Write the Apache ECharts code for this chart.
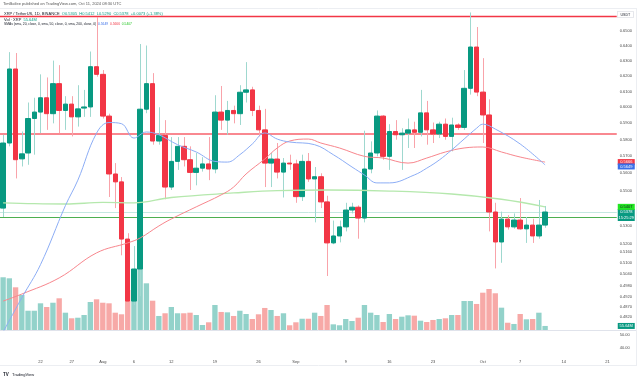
<!DOCTYPE html>
<html>
<head>
<meta charset="utf-8">
<script src="https://cdn.jsdelivr.net/npm/echarts@6/dist/echarts.min.js"></script>
<style>
  html, body { margin: 0; padding: 0; background: #fff; }
  #chart { width: 640px; height: 377px; }
</style>
</head>
<body>
<div id="chart"></div>
<script>
// daily categories, Jul 16 .. Oct 22 2024 (candles stop on Oct 11)
const dates = [];
for (let d = new Date(Date.UTC(2024, 6, 16)); d <= new Date(Date.UTC(2024, 9, 22)); d.setUTCDate(d.getUTCDate() + 1)) {
  dates.push(d.toISOString().slice(0, 10));
}

const opens = [0.5400,0.5780,0.6245,0.5685,0.5720,0.5930,0.5970,0.6060,0.5960,0.6150,
  0.5980,0.6020,0.5940,0.5995,0.6002,0.6260,0.6210,0.5945,0.5596,0.5550,
  0.5228,0.4900,0.5067,0.5988,0.6150,0.5792,0.5826,0.5520,0.5670,0.5760,
  0.5680,0.5605,0.5630,0.5655,0.5625,0.5970,0.5920,0.5980,0.5960,0.6095,
  0.6110,0.5980,0.5860,0.5660,0.5684,0.5607,0.5660,0.5655,0.5465,0.5670,
  0.5567,0.5580,0.5435,0.5207,0.5245,0.5295,0.5389,0.5405,0.5344,0.5625,
  0.5720,0.5945,0.5700,0.5850,0.5830,0.5840,0.5860,0.5845,0.5965,0.5860,
  0.5835,0.5895,0.5820,0.5890,0.5875,0.6120,0.6390,0.6096,0.5952,0.5378,
  0.5212,0.5338,0.5295,0.5333,0.5284,0.5305,0.5245,0.5305];
const closes = [0.5780,0.6245,0.5680,0.5715,0.5930,0.5970,0.6060,0.5960,0.6150,0.5980,
  0.6020,0.5940,0.5990,0.6002,0.6260,0.6210,0.5945,0.5596,0.5550,0.5228,
  0.4900,0.5067,0.5988,0.6150,0.5792,0.5826,0.5520,0.5670,0.5760,0.5680,
  0.5605,0.5630,0.5655,0.5625,0.5970,0.5920,0.5980,0.5960,0.6095,0.6110,
  0.5980,0.5860,0.5660,0.5684,0.5607,0.5660,0.5655,0.5465,0.5670,0.5567,
  0.5580,0.5435,0.5207,0.5245,0.5295,0.5389,0.5405,0.5344,0.5625,0.5720,
  0.5945,0.5700,0.5850,0.5830,0.5840,0.5860,0.5845,0.5965,0.5860,0.5835,
  0.5895,0.5820,0.5890,0.5875,0.6120,0.6390,0.6096,0.5952,0.5378,0.5212,
  0.5338,0.5295,0.5333,0.5284,0.5305,0.5245,0.5305,0.5378];
const highs = [0.5830,0.6356,0.6350,0.5850,0.6030,0.6060,0.6210,0.6190,0.6300,0.6270,
  0.6070,0.6070,0.6140,0.6110,0.6360,0.6594,0.6238,0.5960,0.5660,0.5578,
  0.5260,0.5190,0.6410,0.6400,0.6218,0.6000,0.5920,0.5816,0.5816,0.5816,
  0.5760,0.5720,0.5695,0.5816,0.6076,0.6135,0.6040,0.6010,0.6140,0.6290,
  0.6130,0.6010,0.5990,0.5720,0.5780,0.5690,0.5710,0.5680,0.5710,0.5720,
  0.5637,0.5600,0.5470,0.5330,0.5330,0.5430,0.5430,0.5415,0.5855,0.5790,
  0.5980,0.5950,0.5895,0.5920,0.5870,0.5930,0.5910,0.6110,0.6040,0.5905,
  0.5910,0.5930,0.5935,0.5900,0.6238,0.6625,0.6525,0.6316,0.6050,0.5430,
  0.5380,0.5360,0.5370,0.5457,0.5350,0.5340,0.5446,0.5412];
const lows = [0.5350,0.5760,0.5570,0.5640,0.5650,0.5710,0.5840,0.5860,0.5900,0.5840,
  0.5860,0.5820,0.5880,0.5940,0.5940,0.6195,0.5930,0.5463,0.5400,0.5140,
  0.4300,0.4880,0.4925,0.5963,0.5770,0.5770,0.5450,0.5503,0.5620,0.5640,
  0.5503,0.5530,0.5610,0.5560,0.5600,0.5860,0.5830,0.5900,0.5890,0.6030,
  0.5945,0.5820,0.5520,0.5520,0.5570,0.5460,0.5620,0.5430,0.5440,0.5550,
  0.5320,0.5400,0.5030,0.5200,0.5210,0.5270,0.5370,0.5230,0.5320,0.5600,
  0.5700,0.5680,0.5620,0.5800,0.5620,0.5750,0.5750,0.5820,0.5770,0.5780,
  0.5810,0.5800,0.5730,0.5860,0.5860,0.6080,0.6070,0.5780,0.5270,0.5070,
  0.5100,0.5280,0.5285,0.5280,0.5207,0.5207,0.5230,0.5290];
// volume in millions of XRP
const volumes = [725,711,587,481,265,265,367,316,375,436,
  238,161,169,206,385,422,375,367,238,216,
  550,440,870,642,403,193,230,316,230,230,
  238,206,69,106,344,248,243,193,265,220,
  151,216,303,275,193,230,65,106,155,155,
  238,193,344,78,65,151,124,169,344,238,
  206,110,220,151,183,202,197,128,110,138,
  151,161,206,206,399,399,358,513,564,505,
  307,100,83,220,147,151,238,55.64];

// moving averages (day index -> value)
const sma20Days = [0,3,6,10,12,15,17,19,21,23,25,28,31,34,36,38,40,42,44,46,50,53,56,58,60,62,66,68,70,72,74,76,77,79,83,87];
const sma20 = [0.4744,0.4917,0.5090,0.5414,0.5560,0.5840,0.5905,0.5898,0.5810,0.5847,
  0.5830,0.5770,0.5726,0.5670,0.5666,0.5710,0.5774,0.5841,0.5804,0.5786,
  0.5770,0.5710,0.5637,0.5590,0.5544,0.5544,0.5590,0.5630,0.5678,0.5738,
  0.5804,0.5870,0.5895,0.5865,0.5774,0.5649];
const sma50Days = [0,3,9,15,20,22,25,27,31,35,37,39,42,44,46,49,51,54,58,61,65,68,71,74,77,80,83,87];
const sma50 = [0.4900,0.4936,0.5020,0.5153,0.5207,0.5234,0.5300,0.5339,0.5407,0.5475,
  0.5520,0.5596,0.5684,0.5750,0.5792,0.5804,0.5780,0.5750,0.5700,0.5690,
  0.5660,0.5690,0.5726,0.5750,0.5756,0.5726,0.5696,0.5666];
const sma200Days = [0,5,10,16,21,27,37,44,52,62,72,80,87];
const sma200 = [0.5430,0.5425,0.5423,0.5432,0.5430,0.5460,0.5486,0.5500,0.5503,0.5497,0.5480,0.5450,0.5407];

const resistance = [0.6600, 0.5835];
const support = [0.5350];

const priceTicks = [0.66,0.65,0.64,0.63,0.62,0.61,0.60,0.59,0.58,0.57,0.56,0.55,0.54,0.53,0.52,0.516,0.51,0.504,0.498,0.492,0.487,0.482];
const rsiTicks = [50, 40];
const tickDays = ['2024-07-22','2024-07-27','2024-08-01','2024-08-06','2024-08-12','2024-08-19','2024-08-26','2024-09-01','2024-09-09','2024-09-16','2024-09-23','2024-10-01','2024-10-07','2024-10-14','2024-10-21'];
const tickLabels = ['22','27','Aug','6','12','19','26','Sep','9','16','23','Oct','7','14','21'];

const UP = '#089981', DOWN = '#f23645';
const FONT = 'Liberation Sans';

const wickData = opens.map((o, i) => [i, lows[i], highs[i], closes[i] >= o ? 1 : 0]);
const bodyData = opens.map((o, i) => [o, closes[i], Math.min(o, closes[i]), Math.max(o, closes[i])]);
const volData = volumes.map((v, i) => ({
  value: v,
  itemStyle: { color: closes[i] >= opens[i] ? '#93d2ca' : '#f7a9a7' }
}));
const pts = (days, vals) => days.map((d, i) => [d, vals[i]]);

const last = closes[closes.length - 1];

// price-scale badge drawn as rich text; "below"/"count" lines push the box off-centre
function badge(bg, fg, fmt, lines) {
  return {
    show: true, position: 'end', distance: 1, fontFamily: FONT,
    formatter: p => {
      const t = fmt(p.value);
      if (lines === 'below') return '{e|}\n{a|' + t + '}';
      if (lines === 'count') return '{h|}\n{a|' + t + '}\n{a|15:25:29}';
      return '{a|' + t + '}';
    },
    rich: {
      e: { height: 3 },
      h: { height: 6 },
      a: { backgroundColor: bg, color: fg, fontSize: 4, width: 17, height: 6, align: 'center', fontFamily: FONT }
    }
  };
}
const f4 = v => v.toFixed(4);
// a badge-only marker: invisible line, label at the price scale
const marker = (value, label) => ({
  silent: true, symbol: 'none', precision: 4,
  lineStyle: { color: 'transparent' }, label, data: [{ yAxis: value }]
});

function renderWick(params, api) {
  const lo = api.coord([api.value(0), api.value(1)]);
  const hi = api.coord([api.value(0), api.value(2)]);
  const x = Math.round(lo[0]) + 0.5;
  const p = echarts.graphic.clipPointsByRect([[x, hi[1]], [x, lo[1]]], params.coordSys);
  if (!p) return;
  return {
    type: 'line',
    shape: { x1: p[0][0], y1: p[0][1], x2: p[1][0], y2: p[1][1] },
    style: { stroke: api.value(3) ? '#9fd8cf' : '#f9a3aa', lineWidth: 1 }
  };
}

const chart = echarts.init(document.getElementById('chart'));
const option = {
  animation: false,
  backgroundColor: '#ffffff',
  grid: [
    { left: -2, right: 23.25, top: 9, height: 321 },
    { left: -2, right: 23.25, top: 250, height: 80 },
    { left: -2, right: 23.25, top: 331, height: 25 }
  ],
  xAxis: [0, 1, 2].map(g => ({
    type: 'category', gridIndex: g, data: dates, boundaryGap: true,
    axisLine: { show: false }, axisTick: { show: false },
    splitLine: { show: false },
    axisLabel: g === 2 ? {
      show: true, fontSize: 4, color: '#4a4a4a', fontFamily: FONT, margin: 4,
      interval: (i, v) => tickDays.includes(v),
      formatter: v => tickLabels[tickDays.indexOf(v)]
    } : { show: false }
  })),
  yAxis: [
    {
      type: 'log', logBase: 10, gridIndex: 0, position: 'right',
      min: 0.4754, max: 0.6649,
      axisLine: { show: false }, axisTick: { show: false }, splitLine: { show: false },
      axisLabel: {
        customValues: priceTicks, fontSize: 4, color: '#4a4a4a', fontFamily: FONT, margin: 3,
        formatter: v => Number(v).toFixed(4)
      }
    },
    { type: 'value', gridIndex: 1, min: 0, max: 1100, show: false },
    {
      type: 'value', gridIndex: 2, position: 'right', min: 33.8, max: 53.1,
      axisLine: { show: false }, axisTick: { show: false }, splitLine: { show: false },
      axisLabel: {
        customValues: rsiTicks, fontSize: 4, color: '#4a4a4a', fontFamily: FONT, margin: 3,
        formatter: v => Number(v).toFixed(2)
      }
    }
  ],
  series: [
    {
      name: 'Vol', type: 'bar', xAxisIndex: 1, yAxisIndex: 1, z: 1,
      barWidth: '86%', data: volData,
      markLine: marker(volumes[volumes.length - 1], badge(UP, '#fff', v => v.toFixed(2) + 'M'))
    },
    {
      name: 'wick', type: 'custom', xAxisIndex: 0, yAxisIndex: 0, z: 2,
      data: wickData, encode: { x: 0, y: [1, 2] }, renderItem: renderWick
    },
    {
      name: 'XRP', type: 'candlestick', xAxisIndex: 0, yAxisIndex: 0, z: 3,
      barWidth: 5, data: bodyData,
      itemStyle: { color: UP, color0: DOWN, borderColor: UP, borderColor0: DOWN, borderWidth: 1 },
      markLine: {
        silent: true, symbol: 'none', z: 1, precision: 4,
        label: { show: false },
        data: [
          { yAxis: resistance[0], lineStyle: { color: '#f23645', width: 1.3, type: 'solid' } },
          { yAxis: resistance[1], lineStyle: { color: '#f7606b', width: 1.6, type: 'solid' } },
          { yAxis: support[0], lineStyle: { color: '#4caf50', width: 1.2, type: 'solid' } },
          {
            yAxis: last, lineStyle: { color: '#c5e8e2', width: 1, type: 'solid' },
            label: badge(UP, '#fff', f4, 'count')
          }
        ]
      }
    },
    {
      name: 'SMA200', type: 'line', xAxisIndex: 0, yAxisIndex: 0, z: 4,
      data: pts(sma200Days, sma200), smooth: 0.4, symbol: 'none',
      lineStyle: { color: '#b5e8ad', width: 1.3 },
      markLine: marker(sma200[sma200.length - 1], badge('#22e622', '#131722', f4))
    },
    {
      name: 'SMA50', type: 'line', xAxisIndex: 0, yAxisIndex: 0, z: 4,
      data: pts(sma50Days, sma50), smooth: 0.4, symbol: 'none',
      lineStyle: { color: '#f8868d', width: 1 },
      markLine: marker(sma50[sma50.length - 1], badge('#f23645', '#fff', f4))
    },
    {
      name: 'SMA20', type: 'line', xAxisIndex: 0, yAxisIndex: 0, z: 5,
      data: pts(sma20Days, sma20), smooth: 0.4, symbol: 'none',
      lineStyle: { color: '#8cadf5', width: 1 },
      markLine: marker(sma20[sma20.length - 1], badge('#3a6fe8', '#fff', f4, 'below'))
    },
    { name: 'pane', type: 'line', xAxisIndex: 2, yAxisIndex: 2, data: [] }
  ],
  graphic: [
    { type: 'line', shape: { x1: 0, y1: 8.5, x2: 637, y2: 8.5 }, style: { stroke: '#eceef2', lineWidth: 1 } },
    { type: 'line', shape: { x1: 0, y1: 330.5, x2: 637, y2: 330.5 }, style: { stroke: '#e0e3eb', lineWidth: 1 } },
    { type: 'line', shape: { x1: 0, y1: 365.5, x2: 637, y2: 365.5 }, style: { stroke: '#eceef2', lineWidth: 1 } },
    { type: 'line', shape: { x1: 636.5, y1: 8, x2: 636.5, y2: 366 }, style: { stroke: '#eceef2', lineWidth: 1 } },
    {
      type: 'text', left: 3, top: 2, z: 10,
      style: { text: 'TimBatlee published on TradingView.com, Oct 11, 2024 08:30 UTC', fontSize: 4, fill: '#555', fontFamily: FONT }
    },
    {
      type: 'text', left: 4, top: 12, z: 10,
      style: {
        text: '{n|XRP / TetherUS, 1D, BINANCE}  {v|O0.5305  H0.5412  L0.5290  C0.5378  +0.0073 (+1.38%)}',
        fontSize: 4, fontFamily: FONT,
        rich: { n: { fill: '#131722', fontSize: 4 }, v: { fill: UP, fontSize: 4 } }
      }
    },
    {
      type: 'text', left: 4, top: 17.5, z: 10,
      style: {
        text: '{n|Vol · XRP}  {v|55.64M}', fontSize: 4, fontFamily: FONT,
        rich: { n: { fill: '#131722', fontSize: 4 }, v: { fill: UP, fontSize: 4 } }
      }
    },
    {
      type: 'text', left: 4, top: 22.5, z: 10,
      style: {
        text: '{n|SMAs (sma, 20, close, 0, sma, 50, close, 0, sma, 200, close, 0)}  {b|0.5649}  {r|0.5666}  {g|0.5407}',
        fontSize: 3.3, fontFamily: FONT,
        rich: {
          n: { fill: '#131722', fontSize: 3.3 }, b: { fill: '#3a6fe8', fontSize: 3.3 },
          r: { fill: '#f23645', fontSize: 3.3 }, g: { fill: '#22c522', fontSize: 3.3 }
        }
      }
    },
    {
      type: 'text', left: 617, top: 11, z: 10,
      style: {
        text: 'USDT', fontSize: 3.6, fill: '#131722', fontFamily: FONT,
        backgroundColor: '#fff', borderColor: '#d1d4dc', borderWidth: 0.5, padding: [1, 3]
      }
    },
    {
      type: 'text', left: 3, top: 369, z: 10,
      style: {
        text: '{l|TV} {t|TradingView}', fontFamily: FONT,
        rich: { l: { fill: '#131722', fontSize: 4.5, fontWeight: 'bold' }, t: { fill: '#131722', fontSize: 4 } }
      }
    }
  ]
};
chart.setOption(option);
</script>
</body>
</html>
